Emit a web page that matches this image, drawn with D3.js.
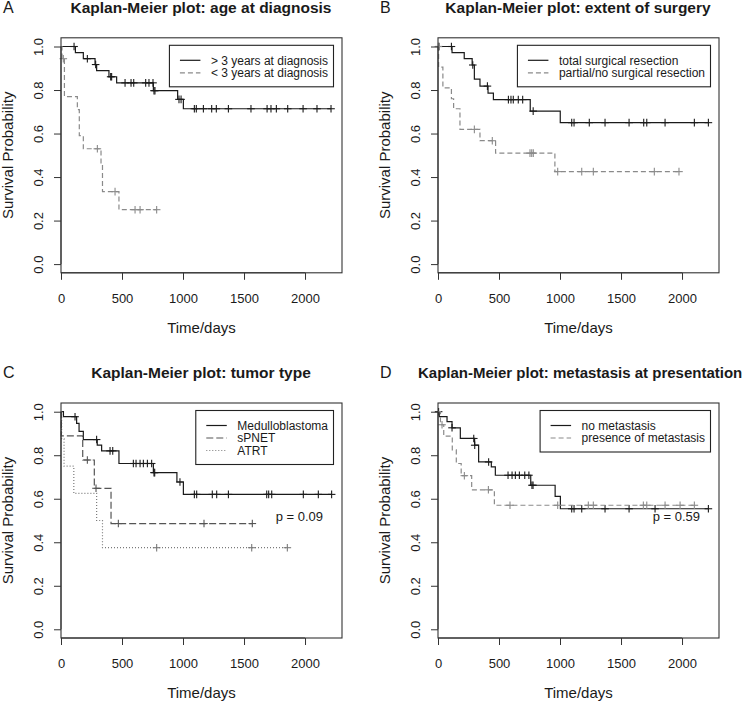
<!DOCTYPE html>
<html>
<head>
<meta charset="utf-8">
<script src="https://cdn.jsdelivr.net/npm/d3@7"></script>
<style>
  html, body { margin: 0; padding: 0; background: #fff; }
  svg { display: block; }
  text { font-family: "Liberation Sans", Arial, Helvetica, sans-serif; fill: #1a1a1a; }
</style>
</head>
<body>
<script>
// ---------- data ----------
const xTicks = [0, 500, 1000, 1500, 2000];
const yTicks = [0, 0.2, 0.4, 0.6, 0.8, 1.0];
const xMax = 2303;
const panelLetters = ["A", "B", "C", "D"];
const panelTitles = [
  "Kaplan-Meier plot: age at diagnosis",
  "Kaplan-Meier plot: extent of surgery",
  "Kaplan-Meier plot: tumor type",
  "Kaplan-Meier plot: metastasis at presentation"
];
const xTitle = "Time/days";
const yTitle = "Survival Probability";
const pValues = [null, null, "p = 0.09", "p = 0.59"];

// Panel A: age at diagnosis
const aOlderLabel = "> 3 years at diagnosis";
const aOlderTimes = [118, 183, 279, 292, 393, 456, 757, 956, 1003];
const aOlderSurv  = [0.972, 0.944, 0.917, 0.889, 0.861, 0.833, 0.797, 0.757, 0.714];
const aOlderCens  = [107, 216, 284, 407, 415, 525, 574, 596, 694, 721, 754, 762, 770, 967, 984,
                     1093, 1109, 1167, 1235, 1273, 1372, 1557, 1689, 1721, 1765, 1858, 1984, 2098, 2213];
const aYoungLabel = "< 3 years at diagnosis";
const aYoungTimes = [8, 28, 134, 150, 183, 328, 340, 475];
const aYoungSurv  = [0.944, 0.77, 0.71, 0.59, 0.53, 0.465, 0.333, 0.25];
const aYoungCens  = [19, 298, 443, 607, 648, 784];

// Panel B: extent of surgery
const bTotalLabel = "total surgical resection";
const bTotalTimes = [115, 215, 280, 298, 344, 410, 454, 756, 1002];
const bTotalSurv  = [0.972, 0.944, 0.915, 0.85, 0.818, 0.786, 0.756, 0.703, 0.65];
const bTotalCens  = [8, 110, 285, 405, 577, 598, 617, 658, 694, 780,
                     1096, 1115, 1240, 1369, 1566, 1686, 1711, 1861, 2101, 2216];
const bPartLabel  = "partial/no surgical resection";
const bPartTimes  = [5, 40, 110, 128, 180, 344, 472, 958];
const bPartSurv   = [0.905, 0.81, 0.76, 0.714, 0.619, 0.567, 0.51, 0.425];
const bPartCens   = [3, 298, 445, 754, 768, 781, 981, 1178, 1273, 1773, 1975];

// Panel C: tumor type
const cMedLabel   = "Medulloblastoma";
const cMedTimes   = [20, 128, 148, 183, 297, 333, 475, 757, 950, 1003];
const cMedSurv    = [0.977, 0.946, 0.91, 0.872, 0.846, 0.82, 0.762, 0.72, 0.677, 0.62];
const cMedCens    = [115, 292, 402, 424, 593, 615, 648, 675, 708, 743, 762, 768, 975,
                     1093, 1112, 1240, 1276, 1372, 1686, 1702, 1727, 1986, 2109, 2218];
const cPnetLabel  = "sPNET";
const cPnetTimes  = [3, 178, 273, 410];
const cPnetSurv   = [0.889, 0.778, 0.648, 0.486];
const cPnetCens   = [216, 287, 470, 1172, 1568];
const cAtrtLabel  = "ATRT";
const cAtrtTimes  = [5, 25, 105, 292, 340];
const cAtrtSurv   = [0.875, 0.75, 0.625, 0.5, 0.375];
const cAtrtCens   = [784, 1563, 1855];

// Panel D: metastasis at presentation
const dNoLabel    = "no metastasis";
const dNoTimes    = [10, 74, 115, 183, 300, 333, 437, 470, 760, 960, 1003];
const dNoSurv     = [0.977, 0.954, 0.926, 0.877, 0.846, 0.769, 0.746, 0.708, 0.662, 0.611, 0.554];
const dNoCens     = [5, 115, 293, 301, 415, 574, 607, 634, 667, 711, 745, 770, 779,
                     1096, 1115, 1178, 1369, 1566, 1779, 2216];
const dMetLabel   = "presence of metastasis";
const dMetTimes   = [20, 47, 117, 150, 190, 276, 462];
const dMetSurv    = [0.94, 0.888, 0.825, 0.762, 0.706, 0.641, 0.57];
const dMetCens    = [33, 216, 413, 590, 981, 1232, 1273, 1683, 1711, 1861, 1984, 2101];

// ---------- styles ----------
const BLACK = "#1a1a1a", GRAY = "#8a8a8a", DGRAY = "#555555", LGRAY = "#7a7a7a";
const solid = { color: BLACK, dash: null };
const grayDash = { color: GRAY, dash: "5,3" };
const darkDash = { color: DGRAY, dash: "7,3" };
const dotted = { color: LGRAY, dash: "1,2" };

const panels = [
  { series: [
      { label: aOlderLabel, t: aOlderTimes, s: aOlderSurv, c: aOlderCens, st: solid },
      { label: aYoungLabel, t: aYoungTimes, s: aYoungSurv, c: aYoungCens, st: grayDash } ] },
  { series: [
      { label: bTotalLabel, t: bTotalTimes, s: bTotalSurv, c: bTotalCens, st: solid },
      { label: bPartLabel, t: bPartTimes, s: bPartSurv, c: bPartCens, st: grayDash } ] },
  { series: [
      { label: cMedLabel, t: cMedTimes, s: cMedSurv, c: cMedCens, st: solid },
      { label: cPnetLabel, t: cPnetTimes, s: cPnetSurv, c: cPnetCens, st: darkDash },
      { label: cAtrtLabel, t: cAtrtTimes, s: cAtrtSurv, c: cAtrtCens, st: dotted } ] },
  { series: [
      { label: dNoLabel, t: dNoTimes, s: dNoSurv, c: dNoCens, st: solid },
      { label: dMetLabel, t: dMetTimes, s: dMetSurv, c: dMetCens, st: grayDash } ] }
];

// ---------- layout ----------
const width = 750, height = 703;
const lefts = [61, 438], tops = [37.8, 403];
const PW = 281, PH = 235;

const svg = d3.select("body").append("svg").attr("width", width).attr("height", height);

panels.forEach((p, i) => {
  const left = lefts[i % 2], top = tops[Math.floor(i / 2)];
  const x = d3.scaleLinear().domain([0, xMax]).range([left, left + PW]);
  const y = d3.scaleLinear().domain([-0.04, 1.04]).range([top + PH, top]);
  const g = svg.append("g");

  // curves
  p.series.forEach(se => {
    const pts = [[0, 1]];
    se.t.forEach((t, k) => pts.push([t, se.s[k]]));
    const tEnd = Math.max(d3.max(se.c), d3.max(se.t));
    pts.push([tEnd, se.s[se.s.length - 1]]);
    const line = d3.line().x(d => x(d[0])).y(d => y(d[1])).curve(d3.curveStepAfter);
    g.append("path").attr("d", line(pts)).attr("fill", "none")
      .attr("stroke", se.st.color).attr("stroke-width", 1.2)
      .attr("stroke-dasharray", se.st.dash);
    const survAt = t => { let v = 1; se.t.forEach((tt, k) => { if (tt <= t) v = se.s[k]; }); return v; };
    const cg = g.append("g").attr("stroke", se.st.color).attr("stroke-width", 1.1);
    se.c.forEach(t => {
      const cx = x(t), cy = y(survAt(t));
      cg.append("line").attr("x1", cx - 3.8).attr("x2", cx + 3.8).attr("y1", cy).attr("y2", cy);
      cg.append("line").attr("x1", cx).attr("x2", cx).attr("y1", cy - 3.8).attr("y2", cy + 3.8);
    });
  });

  // box
  g.append("rect").attr("x", left).attr("y", top).attr("width", PW).attr("height", PH)
    .attr("fill", "none").attr("stroke", "#333").attr("stroke-width", 1.1);

  // axes
  const xa = g.append("g").attr("transform", `translate(0,${top + PH})`)
    .call(d3.axisBottom(x).tickValues(xTicks).tickSize(7).tickPadding(7).tickFormat(d3.format("d")));
  xa.select(".domain").attr("d", `M${x(0)},0H${x(2000)}`).attr("stroke", "#333");
  xa.selectAll(".tick line").attr("stroke", "#333");
  xa.selectAll(".tick text").attr("font-size", 13).attr("fill", "#1a1a1a")
    .attr("dy", null).attr("y", 30);

  const ya = g.append("g").attr("transform", `translate(${left},0)`)
    .call(d3.axisLeft(y).tickValues(yTicks).tickSize(7).tickFormat(d3.format(".1f")));
  ya.select(".domain").attr("d", `M0,${y(0)}V${y(1)}`).attr("stroke", "#333");
  ya.selectAll(".tick line").attr("stroke", "#333");
  ya.selectAll(".tick text").attr("font-size", 13).attr("fill", "#1a1a1a")
    .attr("x", null).attr("dy", null)
    .attr("text-anchor", "middle")
    .attr("transform", "translate(-18,0) rotate(-90)");

  // titles
  const tb = top - 25;
  g.append("text").attr("x", left - 58).attr("y", tb).attr("font-size", 16).text(panelLetters[i]);
  if (i === 3) {
    g.append("text").attr("x", 418).attr("y", tb).attr("font-size", 15)
      .attr("font-weight", "bold").text(panelTitles[i]);
  } else {
    g.append("text").attr("x", left + PW / 2 - 0.5).attr("y", tb).attr("font-size", 15.5)
      .attr("font-weight", "bold").attr("text-anchor", "middle").text(panelTitles[i]);
  }
  g.append("text").attr("x", left + PW / 2).attr("y", top + PH + 60).attr("font-size", 15)
    .attr("text-anchor", "middle").text(xTitle);
  g.append("text").attr("transform", `translate(${left - 48},${top + PH / 2}) rotate(-90)`)
    .attr("font-size", 15).attr("text-anchor", "middle").text(yTitle);

  // p-value
  if (pValues[i]) {
    g.append("text").attr("x", left + 262).attr("y", top + 118).attr("font-size", 13)
      .attr("text-anchor", "end").text(pValues[i]);
  }

  // legend
  const lg = g.append("g");
  const texts = p.series.map((se, k) => lg.append("text").attr("font-size", 12)
    .attr("dy", "0.35em").text(se.label));
  const tw = d3.max(texts, t => t.node().getComputedTextLength());
  const bw = tw + 47, bh = 15 + (p.series.length - 1) * 12.5 + 14;
  const bx = left + PW - 8.5 - bw, by = top + 7.5;
  lg.insert("rect", "text").attr("x", bx).attr("y", by).attr("width", bw).attr("height", bh)
    .attr("fill", "#fff").attr("stroke", "#222").attr("stroke-width", 1.1);
  p.series.forEach((se, k) => {
    const ly = by + 15 + k * 12.5;
    lg.append("line").attr("x1", bx + 10.5).attr("x2", bx + 31).attr("y1", ly).attr("y2", ly)
      .attr("stroke", se.st.color).attr("stroke-width", 1.2).attr("stroke-dasharray", se.st.dash);
    texts[k].attr("x", bx + 41.5).attr("y", ly);
  });
});
</script>
</body>
</html>
